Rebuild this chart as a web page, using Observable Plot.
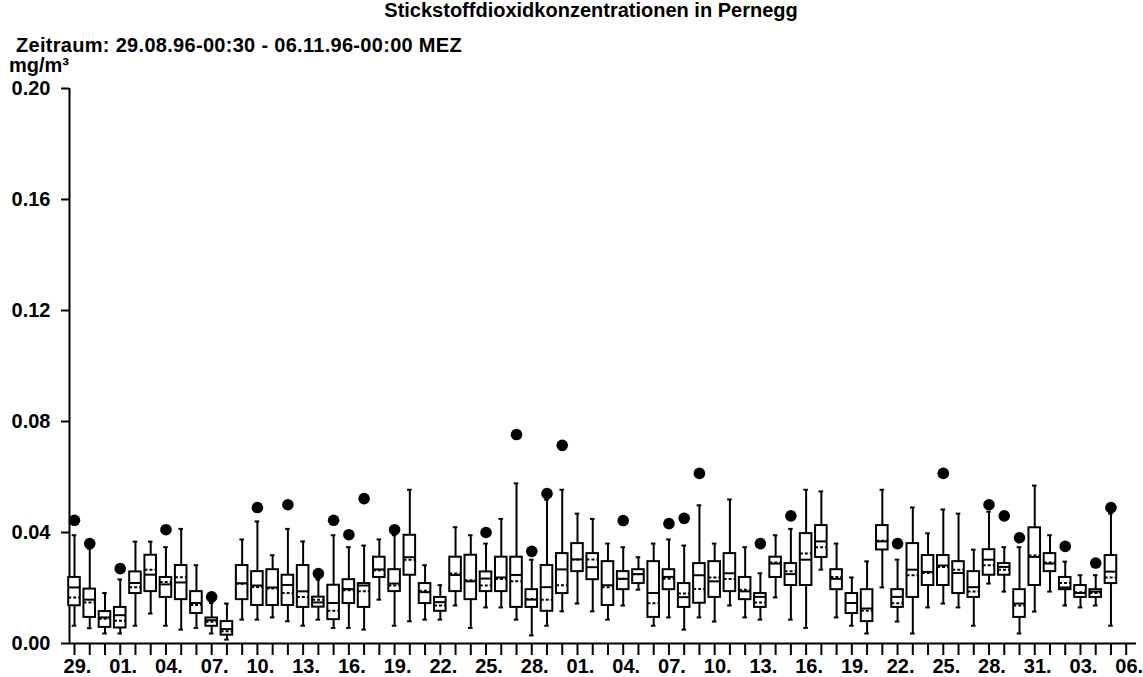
<!DOCTYPE html>
<html><head><meta charset="utf-8">
<script src="https://cdn.jsdelivr.net/npm/d3@7"></script>
<script src="https://cdn.jsdelivr.net/npm/@observablehq/plot@0.6"></script>
<style>
body{margin:0;background:#fff;font-family:"Liberation Sans",Arial,sans-serif;font-weight:bold;font-size:20px;color:#000;}
#wrap{position:relative;width:1143px;height:677px;overflow:hidden;}
.t{position:absolute;line-height:20px;white-space:nowrap;}
#title{left:0;width:1182px;text-align:center;top:0px;}
#sub{left:16px;top:35px;letter-spacing:0.3px;}
#unit{left:9px;top:55px;}
#chart{position:absolute;left:0;top:0;}
</style></head><body>
<div id="wrap">
<div id="chart"></div>
<div class="t" id="title">Stickstoffdioxidkonzentrationen in Pernegg</div>
<div class="t" id="sub">Zeitraum: 29.08.96-00:30 - 06.11.96-00:00 MEZ</div>
<div class="t" id="unit">mg/m³</div>
</div>
<script>
// Days (one box per day)
const dates = ["29.08","30.08","31.08","01.09","02.09","03.09","04.09","05.09","06.09","07.09","08.09","09.09","10.09","11.09","12.09","13.09","14.09","15.09","16.09","17.09","18.09","19.09","20.09","21.09","22.09","23.09","24.09","25.09","26.09","27.09","28.09","29.09","30.09","01.10","02.10","03.10","04.10","05.10","06.10","07.10","08.10","09.10","10.10","11.10","12.10","13.10","14.10","15.10","16.10","17.10","18.10","19.10","20.10","21.10","22.10","23.10","24.10","25.10","26.10","27.10","28.10","29.10","30.10","31.10","01.11","02.11","03.11","04.11","05.11"];
// Box statistics in mg/m³
const whiskerLow = [0.0064,0.0055,0.0036,0.0036,0.0064,0.0108,0.0064,0.0050,0.0056,0.0036,0.0014,0.0086,0.0086,0.0094,0.0080,0.0064,0.0086,0.0056,0.0056,0.0050,0.0158,0.0064,0.0080,0.0086,0.0086,0.0137,0.0056,0.0130,0.0130,0.0086,0.0029,0.0064,0.0116,0.0144,0.0116,0.0086,0.0137,0.0194,0.0064,0.0094,0.0050,0.0094,0.0079,0.0137,0.0094,0.0086,0.0166,0.0086,0.0056,0.0266,0.0094,0.0064,0.0036,0.0202,0.0079,0.0036,0.0130,0.0144,0.0130,0.0064,0.0216,0.0187,0.0036,0.0115,0.0187,0.0137,0.0130,0.0137,0.0064];
const q1 = [0.0136,0.0094,0.0058,0.0056,0.0180,0.0187,0.0166,0.0158,0.0108,0.0062,0.0030,0.0158,0.0137,0.0137,0.0137,0.0130,0.0131,0.0086,0.0144,0.0130,0.0238,0.0187,0.0246,0.0144,0.0116,0.0187,0.0158,0.0187,0.0187,0.0130,0.0130,0.0116,0.0180,0.0259,0.0230,0.0137,0.0194,0.0216,0.0094,0.0194,0.0130,0.0145,0.0166,0.0187,0.0158,0.0130,0.0238,0.0209,0.0209,0.0310,0.0194,0.0108,0.0079,0.0337,0.0130,0.0166,0.0209,0.0209,0.0180,0.0166,0.0246,0.0246,0.0094,0.0209,0.0259,0.0194,0.0166,0.0166,0.0216];
const median = [0.0202,0.0158,0.0094,0.0102,0.0218,0.0248,0.0213,0.0220,0.0146,0.0084,0.0052,0.0217,0.0209,0.0202,0.0211,0.0188,0.0148,0.0146,0.0196,0.0209,0.0267,0.0216,0.0311,0.0185,0.0149,0.0247,0.0224,0.0234,0.0238,0.0247,0.0158,0.0203,0.0267,0.0303,0.0275,0.0210,0.0233,0.0250,0.0182,0.0240,0.0167,0.0246,0.0224,0.0253,0.0188,0.0168,0.0288,0.0250,0.0302,0.0368,0.0233,0.0146,0.0126,0.0368,0.0168,0.0266,0.0258,0.0281,0.0254,0.0203,0.0302,0.0276,0.0144,0.0312,0.0288,0.0202,0.0182,0.0187,0.0259];
const mean = [0.0166,0.0148,0.0089,0.0082,0.0203,0.0266,0.0222,0.0239,0.0139,0.0078,0.0044,0.0215,0.0204,0.0198,0.0182,0.0168,0.0158,0.0118,0.0192,0.0188,0.0264,0.0209,0.0302,0.0190,0.0137,0.0252,0.0228,0.0209,0.0232,0.0224,0.0160,0.0158,0.0210,0.0303,0.0303,0.0203,0.0233,0.0250,0.0145,0.0233,0.0180,0.0196,0.0238,0.0232,0.0194,0.0148,0.0292,0.0260,0.0324,0.0347,0.0240,0.0146,0.0118,0.0370,0.0145,0.0246,0.0254,0.0276,0.0266,0.0187,0.0282,0.0266,0.0137,0.0317,0.0292,0.0218,0.0185,0.0182,0.0238];
const q3 = [0.0238,0.0196,0.0115,0.0130,0.0258,0.0318,0.0238,0.0281,0.0187,0.0092,0.0079,0.0281,0.0259,0.0266,0.0246,0.0281,0.0167,0.0210,0.0230,0.0216,0.0311,0.0266,0.0390,0.0216,0.0166,0.0311,0.0318,0.0258,0.0311,0.0311,0.0194,0.0281,0.0324,0.0360,0.0324,0.0295,0.0259,0.0266,0.0295,0.0266,0.0216,0.0288,0.0295,0.0324,0.0238,0.0180,0.0311,0.0288,0.0396,0.0425,0.0266,0.0180,0.0194,0.0425,0.0194,0.0360,0.0317,0.0317,0.0295,0.0259,0.0338,0.0288,0.0194,0.0417,0.0324,0.0238,0.0209,0.0194,0.0317];
const whiskerHigh = [0.0390,0.0342,0.0182,0.0231,0.0367,0.0367,0.0347,0.0413,0.0282,0.0146,0.0144,0.0375,0.0440,0.0318,0.0413,0.0368,0.0230,0.0390,0.0347,0.0353,0.0375,0.0390,0.0554,0.0282,0.0210,0.0419,0.0390,0.0360,0.0449,0.0577,0.0302,0.0518,0.0554,0.0468,0.0449,0.0360,0.0347,0.0311,0.0360,0.0375,0.0353,0.0498,0.0360,0.0519,0.0347,0.0253,0.0390,0.0413,0.0554,0.0548,0.0360,0.0238,0.0296,0.0554,0.0302,0.0490,0.0397,0.0483,0.0468,0.0338,0.0475,0.0347,0.0347,0.0569,0.0390,0.0295,0.0246,0.0246,0.0468];
const maxValue = [0.0444,0.0360,null,0.0270,null,null,0.0410,null,null,0.0168,null,null,0.0490,null,0.0500,null,0.0252,0.0444,0.0392,0.0522,null,0.0410,null,null,null,null,null,0.0400,null,0.0753,0.0332,0.0540,0.0714,null,null,null,0.0443,null,null,0.0432,0.0451,0.0613,null,null,null,0.0360,null,0.0460,null,null,null,null,null,null,0.0360,null,null,0.0613,null,null,0.0500,0.0460,0.0381,null,null,0.0350,null,0.0290,0.0490];
// Axis ticks
const yTicks = [0, 0.04, 0.08, 0.12, 0.16, 0.20];
const tickLabels = ["29.","01.","04.","07.","10.","13.","16.","19.","22.","25.","28.","01.","04.","07.","10.","13.","16.","19.","22.","25.","28.","31.","03.","06."];

const data = dates.map((d, i) => ({i, date: d, lo: whiskerLow[i], q1: q1[i], med: median[i], mean: mean[i], q3: q3[i], hi: whiskerHigh[i], max: maxValue[i]}));
const outliers = data.filter(d => d.max != null);

const xMin = -0.328, xMax = 69.676;
const bw = 0.38, cw = 0.15;
const allTicks = d3.range(0, dates.length + 1);
const labelTicks = tickLabels.map((_, k) => k * 3);

const chart = Plot.plot({
  width: 1143, height: 677,
  marginTop: 88, marginBottom: 34, marginLeft: 69, marginRight: 7,
  style: {fontFamily: '"Liberation Sans", Arial, sans-serif', fontSize: "20px", fontWeight: "bold", color: "#000", background: "transparent", overflow: "visible"},
  x: {domain: [xMin, xMax], axis: null},
  y: {domain: [0, 0.2], axis: null},
  marks: [
    Plot.axisY({ticks: yTicks, tickFormat: d3.format(".2f"), tickSize: 8, tickPadding: 11, strokeWidth: 2, label: null}),
    Plot.axisX({ticks: allTicks, tickFormat: () => "", tickSize: 12, strokeWidth: 2, label: null}),
    Plot.axisX({ticks: labelTicks, tickFormat: (d) => tickLabels[d / 3], tickSize: 0, tickPadding: 15, dx: 3, label: null}),
    Plot.ruleX([xMin], {y1: 0, y2: 0.2, strokeWidth: 2}),
    Plot.ruleY([0], {strokeWidth: 2}),
    Plot.ruleX(data, {x: "i", y1: "lo", y2: "hi", strokeWidth: 2}),
    Plot.ruleY(data, {y: "lo", x1: d => d.i - cw, x2: d => d.i + cw, strokeWidth: 2}),
    Plot.ruleY(data, {y: "hi", x1: d => d.i - cw, x2: d => d.i + cw, strokeWidth: 2}),
    Plot.rect(data, {x1: d => d.i - bw, x2: d => d.i + bw, y1: "q1", y2: "q3", fill: "white", stroke: "black", strokeWidth: 2}),
    Plot.ruleY(data, {y: "med", x1: d => d.i - bw, x2: d => d.i + bw, strokeWidth: 2}),
    Plot.ruleY(data, {y: "mean", x1: d => d.i - bw, x2: d => d.i + bw, strokeWidth: 2, strokeDasharray: "3,2"}),
    Plot.dot(outliers, {x: "i", y: "max", r: 5.8, fill: "black", stroke: "none"})
  ]
});
document.getElementById("chart").appendChild(chart);
</script>
</body></html>
